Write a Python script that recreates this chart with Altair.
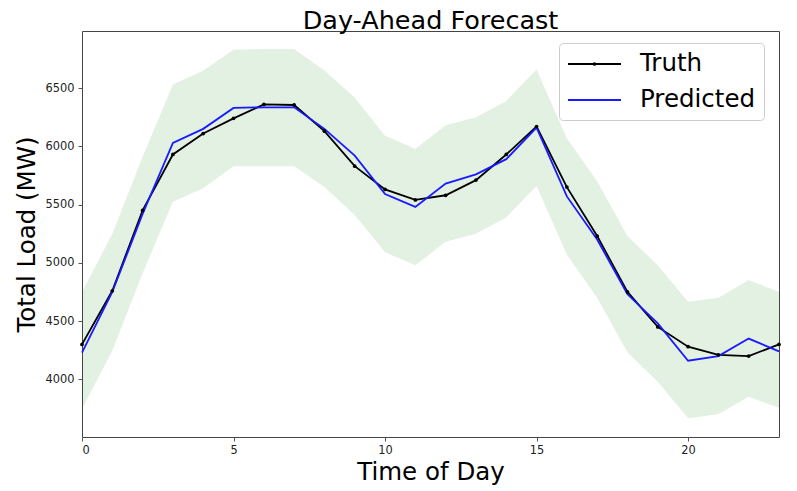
import altair as alt
import pandas as pd

hours = list(range(24))
truth = [4300, 4760, 5450, 5930, 6110, 6240, 6360, 6355, 6130, 5830, 5630, 5540,
         5580, 5710, 5930, 6170, 5650, 5230, 4750, 4450, 4280, 4210, 4200, 4300]
predicted = [4230, 4750, 5420, 6030, 6150, 6330, 6335, 6335, 6150, 5920, 5590, 5480,
             5680, 5760, 5890, 6160, 5570, 5200, 4730, 4480, 4160, 4200, 4350, 4240]
upper = [4750, 5250, 5910, 6530, 6650, 6830, 6835, 6835, 6650, 6420, 6090, 5980,
         6180, 6250, 6390, 6660, 6070, 5700, 5230, 4980, 4665, 4700, 4852, 4750]
lower = [3745, 4245, 4910, 5525, 5640, 5830, 5830, 5830, 5650, 5410, 5090, 4980,
         5180, 5250, 5390, 5660, 5070, 4700, 4230, 3980, 3666, 3700, 3850, 3755]
series_names = ["Truth", "Predicted"]
series_colors = ["#000000", "#1a1aff"]
x_ticks = [0, 5, 10, 15, 20]
y_ticks = [4000, 4500, 5000, 5500, 6000, 6500]

band_df = pd.DataFrame({"hour": hours, "upper": upper, "lower": lower})
line_df = pd.DataFrame({
    "hour": hours * 2,
    "load": truth + predicted,
    "series": ["Truth"] * 24 + ["Predicted"] * 24,
})
truth_df = pd.DataFrame({"hour": hours, "load": truth, "marker": ["Truth"] * 24})

FONT = "DejaVu Sans"
xscale = alt.Scale(domain=[0, 23], nice=False, zero=False)
yscale = alt.Scale(domain=[3505, 6990], nice=False, zero=False)

xaxis = alt.Axis(values=x_ticks, title="Time of Day", grid=False, labelFont=FONT,
                 labelFontSize=11.4, labelColor="#222222", tickColor="#555555",
                 tickSize=4, domain=False, titleFont=FONT, titleFontSize=24.5,
                 titleFontWeight="normal", titleColor="#000000", titlePadding=5,
                 labelPadding=3, format="d")
yaxis = alt.Axis(values=y_ticks, title="Total Load (MW)", grid=False, labelFont=FONT,
                 labelFontSize=11.4, labelColor="#222222", tickColor="#555555",
                 tickSize=4, domain=False, titleFont=FONT, titleFontSize=24.5,
                 titleFontWeight="normal", titleColor="#000000", titlePadding=6,
                 labelPadding=4, format="d")

band = alt.Chart(band_df).mark_area(color="green", opacity=0.11).encode(
    x=alt.X("hour:Q", scale=xscale, axis=xaxis),
    y=alt.Y("upper:Q", scale=yscale, axis=yaxis),
    y2="lower:Q",
)

lines = alt.Chart(line_df).mark_line(strokeWidth=1.8).encode(
    x=alt.X("hour:Q", scale=xscale),
    y=alt.Y("load:Q", scale=yscale),
    color=alt.Color("series:N",
                    scale=alt.Scale(domain=series_names, range=series_colors),
                    sort=series_names,
                    legend=alt.Legend(title=None, orient="none", legendX=477, legendY=12,
                                      symbolType="M-1,0H3.417", symbolSize=576,
                                      symbolStrokeWidth=2, labelFont=FONT,
                                      labelFontSize=24.5, labelColor="#000000",
                                      strokeColor="#cccccc", fillColor="#ffffff",
                                      cornerRadius=4, padding=8, rowPadding=11,
                                      labelOffset=47, zindex=1)),
    order="series:N",
)

pts = alt.Chart(truth_df).mark_point(filled=True, size=14, opacity=1).encode(
    x=alt.X("hour:Q", scale=xscale),
    y=alt.Y("load:Q", scale=yscale),
    color=alt.value("#000000"),
    shape=alt.Shape("marker:N", scale=alt.Scale(domain=["Truth"], range=["circle"]),
                    legend=alt.Legend(title=None, orient="none", legendX=507.5, legendY=28,
                                      symbolSize=14, symbolFillColor="#000000",
                                      symbolStrokeColor="#000000", symbolStrokeWidth=0,
                                      labelExpr="''", labelFontSize=10, padding=0,
                                      labelOffset=0, zindex=2)),
)

chart = alt.layer(band, lines, pts).resolve_legend(shape="independent").properties(
    width=697,
    height=406,
    title=alt.TitleParams("Day-Ahead Forecast", font=FONT, fontSize=25.5,
                          fontWeight="normal", color="#000000", anchor="middle",
                          offset=-3),
    autosize=alt.AutoSizeParams(type="none"),
    padding={"left": 74, "top": 23, "right": 10, "bottom": 54},
).configure_view(stroke="#444444", strokeWidth=1)

chart.save("out.html", embed_options={"renderer": "svg", "actions": False})
